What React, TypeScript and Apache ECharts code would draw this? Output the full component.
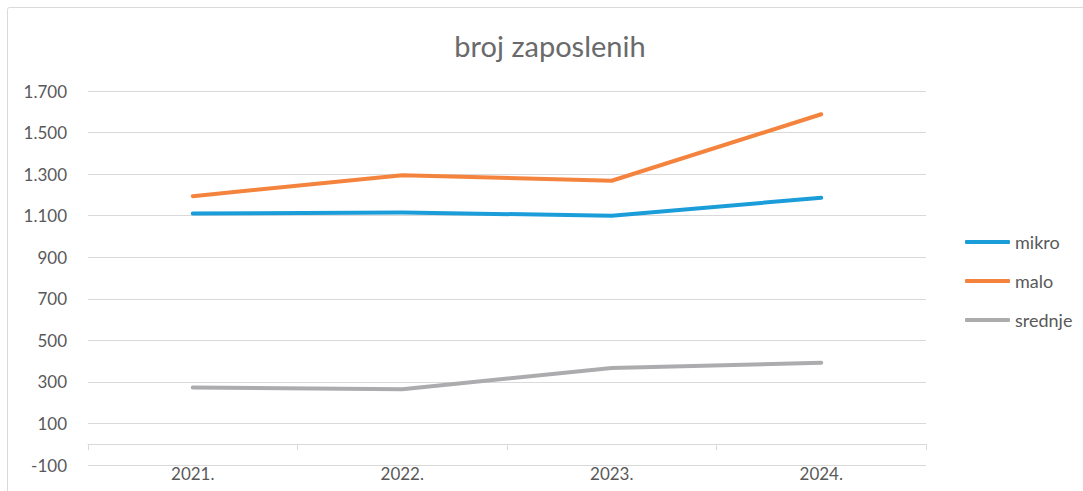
import React, { useEffect, useRef } from "react";
import * as echarts from "echarts";

const title = "broj zaposlenih";
const categories = ["2021.", "2022.", "2023.", "2024."];
const seriesNames = ["mikro", "malo", "srednje"];
const mikro = [1110, 1115, 1100, 1186];
const malo = [1194, 1295, 1268, 1588];
const srednje = [273, 265, 367, 392];
const yTickLabels = ["-100", "100", "300", "500", "700", "900", "1.100", "1.300", "1.500", "1.700"];
const yMin = -100;
const yMax = 1700;
const yStep = 200;

const colors = ["#1b9dd9", "#f4843d", "#acacae"];
const textColor = "#595959";
const titleColor = "#6a6a6a";
const gridColor = "#d9d9d9";
const font = "Lato, 'Noto Sans', sans-serif";

export default function App() {
  const ref = useRef<HTMLDivElement>(null);
  useEffect(() => {
    if (!ref.current) return;
    const chart = echarts.init(ref.current, null, { renderer: "svg" });
    const values = [mikro, malo, srednje];
    chart.setOption({
      animation: false,
      backgroundColor: "#ffffff",
      textStyle: { fontFamily: font },
      graphic: [
        {
          type: "rect",
          shape: { x: 7.5, y: 7.5, width: 1100, height: 500, r: 2 },
          style: { fill: "none", stroke: gridColor, lineWidth: 1 },
          silent: true,
        },
        {
          type: "text",
          x: 550,
          y: 45,
          style: {
            text: title,
            fill: titleColor,
            font: `29px ${font}`,
            textAlign: "center",
            textVerticalAlign: "middle",
          },
        },
      ],
      grid: { left: 88, right: 157, top: 91, bottom: 26, containLabel: false, outerBoundsMode: "none" },
      legend: {
        orient: "vertical",
        left: 960,
        top: 228,
        itemWidth: 45,
        itemHeight: 4,
        itemGap: 21,
        icon: "roundRect",
        data: seriesNames,
        textStyle: { color: textColor, fontSize: 18, lineHeight: 18, fontFamily: font },
      },
      xAxis: {
        type: "category",
        data: categories,
        boundaryGap: true,
        axisLine: { show: true, onZero: true, onZeroAxisIndex: 0, lineStyle: { color: gridColor, width: 1 } },
        axisTick: { show: true, length: 6, lineStyle: { color: gridColor } },
        axisLabel: { color: textColor, fontSize: 17, margin: 0, fontFamily: font },
        splitLine: { show: false },
      },
      yAxis: [
        {
          type: "value",
          min: yMin,
          max: yMax,
          position: "left",
          axisLine: { show: false },
          axisTick: { show: false },
          axisLabel: { show: false },
          splitLine: { show: false },
        },
        {
          type: "value",
          min: 0,
          max: yMax - yMin,
          interval: yStep,
          position: "left",
          offset: 0,
          axisLine: { show: false },
          axisTick: { show: false },
          axisLabel: {
            color: textColor,
            fontSize: 17,
            margin: 21,
            fontFamily: font,
            formatter: (_v: number, i: number) => yTickLabels[i],
          },
          splitLine: { show: true, lineStyle: { color: gridColor, width: 1 } },
        },
      ],
      series: seriesNames.map((name, i) => ({
        name,
        type: "line",
        yAxisIndex: 0,
        data: values[i],
        symbol: "none",
        color: colors[i],
        lineStyle: { color: colors[i], width: 4, cap: "round", join: "round" },
      })),
    });
    return () => chart.dispose();
  }, []);
  return (
    <div
      ref={ref}
      style={{ position: "fixed", left: 0, top: 0, width: 1083, height: 491 }}
    />
  );
}
